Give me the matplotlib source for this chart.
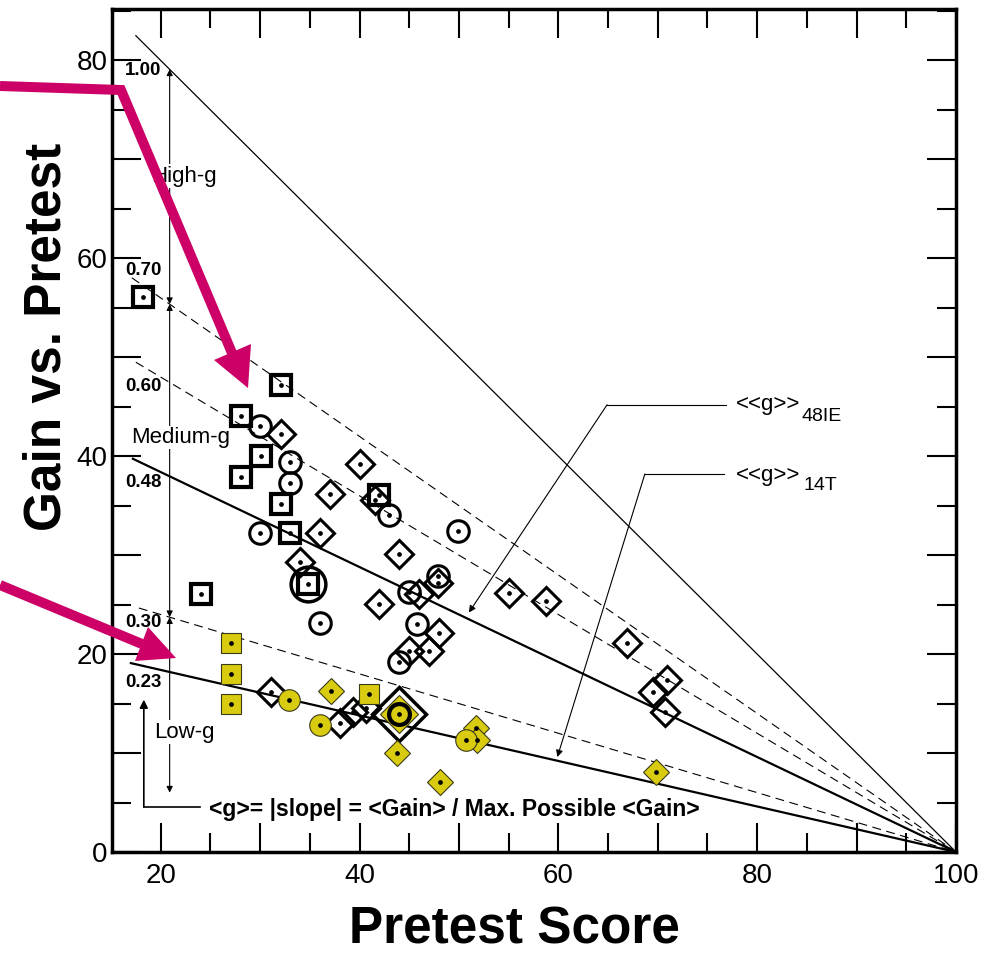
import matplotlib.pyplot as plt
from matplotlib.lines import Line2D
from matplotlib.patches import Polygon
from matplotlib.ticker import MultipleLocator, FuncFormatter
import numpy as np

plt.rcParams['font.family'] = ['Liberation Sans', 'DejaVu Sans']

W, H = 987, 955
MAGENTA = '#CC0066'
YELLOW = '#D8CB10'

# class averages: pretest score (%) and gain (%)
# open markers = interactive engagement, yellow = traditional
hs_ie_x = [18.2, 32.1, 28.1, 30.1, 28.1, 32.1, 33.0, 42.0, 34.8, 24.1]
hs_ie_y = [56.1, 47.2, 44.1, 40.0, 37.9, 35.2, 32.2, 36.1, 27.1, 26.1]
col_ie_x = [30.0, 33.0, 33.0, 30.0, 43.0, 49.9, 36.0, 45.0, 47.9, 45.8, 44.0]
col_ie_y = [43.1, 39.4, 37.3, 32.2, 34.1, 32.4, 23.1, 26.3, 27.9, 23.0, 19.2]
univ_ie_x = [32.1, 37.0, 40.0, 36.0, 34.0, 44.0, 42.0, 46.0, 47.9, 41.6, 55.0, 58.8,
             66.9, 70.9, 69.5, 70.7, 48.0, 45.0, 47.0, 31.1, 38.0, 39.3, 40.7]
univ_ie_y = [42.2, 36.2, 39.2, 32.2, 29.3, 30.1, 25.1, 26.1, 27.2, 35.6, 26.2, 25.4,
             21.1, 17.4, 16.2, 14.2, 22.1, 20.3, 20.3, 16.2, 13.0, 14.2, 14.6]
hs_t_x = [27.1, 27.1, 27.1, 41.0]
hs_t_y = [21.1, 18.0, 15.0, 16.0]
col_t_x = [32.9, 36.0, 50.7]
col_t_y = [15.4, 12.8, 11.3]
univ_t_x = [37.1, 43.8, 48.1, 51.7, 51.8, 69.8]
univ_t_y = [16.3, 10.0, 7.1, 12.5, 11.3, 8.1]
# averages (large markers)
avg_ie_x, avg_ie_y = [34.8], [27.1]
avg_t_x, avg_t_y = [44.0], [13.9]

# lines of constant <g>
g_vals = [1.00, 0.70, 0.60, 0.48, 0.30, 0.23]
g_text = ['1.00', '0.70', '0.60', '0.48', '0.30', '0.23']
g_x0 = [17.5, 17.1, 17.5, 17.2, 17.8, 17.0]
g_ls = ['-', (0, (8, 5)), (0, (8, 5)), '-', (0, (8, 5)), '-']
g_lw = [0.9, 0.8, 0.8, 1.6, 0.8, 1.6]
g_label_y = [79.0, 58.8, 47.0, 37.3, 23.2, 17.1]

fig = plt.figure(figsize=(W / 100, H / 100), dpi=100)
ax = fig.add_axes([112 / W, 1 - 852 / H, (956 - 112) / W, (852 - 9) / H])
ax.set_xlim(15.1, 100)
ax.set_ylim(0, 85.2)

for g, lab, x0, ls, lw, ly in zip(g_vals, g_text, g_x0, g_ls, g_lw, g_label_y):
    xs = np.array([x0, 100])
    ax.plot(xs, g * (100 - xs), color='k', ls=ls, lw=lw, zorder=2)
    ax.text(16.4, ly, lab, fontsize=13.5, fontweight='bold', va='center', ha='left')

# High / Medium / Low bands (double arrows at pretest ~21)
xa = 20.9
bands = [(1.00, 0.70), (0.70, 0.30), (0.30, None)]
for top, bot in bands:
    y1 = top * (100 - xa)
    y2 = bot * (100 - xa) if bot else 6.0
    ax.annotate('', xy=(xa, y1), xytext=(xa, y2),
                arrowprops=dict(arrowstyle='<|-|>', lw=0.8, color='k',
                                mutation_scale=9, shrinkA=0, shrinkB=0), zorder=2)

box = dict(fc='white', ec='none', pad=1)
ax.text(19.0, 68.3, 'High-g', fontsize=16, va='center', bbox=box, zorder=3)
ax.text(17.0, 41.9, 'Medium-g', fontsize=16, va='center', bbox=box, zorder=3)
ax.text(19.3, 12.1, 'Low-g', fontsize=16, va='center', bbox=box, zorder=3)

# <g> definition with L-shaped arrow
ax.plot([24.0, 18.3], [4.55, 4.55], color='k', lw=1.2)
ax.annotate('', xy=(18.3, 15.4), xytext=(18.3, 4.55),
            arrowprops=dict(arrowstyle='-|>', lw=1.2, color='k',
                            mutation_scale=12, shrinkA=0, shrinkB=0))
ax.text(24.9, 4.25, '<g>= |slope| = <Gain> / Max. Possible <Gain>',
        fontsize=16.5, fontweight='bold', va='center', ha='left')

# <<g>> callouts
ax.plot([76.9, 64.9], [45.2, 45.2], color='k', lw=0.8)
ax.annotate('', xy=(51.0, 24.2), xytext=(64.9, 45.2),
            arrowprops=dict(arrowstyle='-|>', lw=0.8, color='k',
                            mutation_scale=10, shrinkA=0, shrinkB=0))
ax.text(77.9, 45.2, '<<g>>', fontsize=16, va='center')
ax.text(84.5, 44.0, '48IE', fontsize=14, va='center')

ax.plot([76.7, 68.7], [38.2, 38.2], color='k', lw=0.8)
ax.annotate('', xy=(59.9, 9.6), xytext=(68.7, 38.2),
            arrowprops=dict(arrowstyle='-|>', lw=0.8, color='k',
                            mutation_scale=10, shrinkA=0, shrinkB=0))
ax.text(77.9, 38.1, '<<g>>', fontsize=16, va='center')
ax.text(84.7, 37.0, '14T', fontsize=14, va='center')

# data markers
open_kw = dict(ls='none', mfc='none', mec='k', zorder=4)
ax.plot(hs_ie_x, hs_ie_y, marker='s', ms=14, mew=3, **open_kw)
ax.plot(col_ie_x, col_ie_y, marker='o', ms=15.5, mew=2.2, **open_kw)
ax.plot(univ_ie_x, univ_ie_y, marker='D', ms=14, mew=2.2, **open_kw)
ax.plot(avg_ie_x, avg_ie_y, marker='o', ms=25, mew=2.5, **open_kw)
ax.plot(avg_t_x, avg_t_y, marker='D', ms=27, mew=2.5, **open_kw)

fill_kw = dict(ls='none', mfc=YELLOW, mec='#3a3a1a', mew=0.8, zorder=5)
ax.plot(univ_t_x, univ_t_y, marker='D', ms=13.5, **fill_kw)
ax.plot(avg_t_x, avg_t_y, marker='D', ms=19, **fill_kw)
ax.plot(hs_t_x, hs_t_y, marker='s', ms=14, **fill_kw)
ax.plot(col_t_x, col_t_y, marker='o', ms=15.5, **fill_kw)
ax.plot(avg_t_x, avg_t_y, marker='o', ms=15, ls='none', mfc=YELLOW, mec='k',
        mew=3, zorder=6)

all_x = hs_ie_x + col_ie_x + univ_ie_x + hs_t_x + col_t_x + univ_t_x + avg_t_x
all_y = hs_ie_y + col_ie_y + univ_ie_y + hs_t_y + col_t_y + univ_t_y + avg_t_y
ax.plot(all_x, all_y, ls='none', marker='o', ms=2.4, color='k', zorder=7)

# axes styling
for s in ax.spines.values():
    s.set_linewidth(2.5)
ax.xaxis.set_major_locator(MultipleLocator(10))
ax.xaxis.set_minor_locator(MultipleLocator(5))
ax.yaxis.set_major_locator(MultipleLocator(10))
ax.yaxis.set_minor_locator(MultipleLocator(5))
fmt = FuncFormatter(lambda v, p: f'{v:.0f}' if round(v) % 20 == 0 else '')
ax.xaxis.set_major_formatter(fmt)
ax.yaxis.set_major_formatter(fmt)
ax.tick_params(which='both', direction='in', top=True, right=True, width=1.5)
ax.tick_params(which='major', length=21)
ax.tick_params(which='minor', length=14)
ax.tick_params(axis='x', pad=8)
ax.tick_params(axis='y', pad=3)
for lab in ax.get_xticklabels() + ax.get_yticklabels():
    lab.set_fontsize(20)

fig.text(47 / W, 1 - 337 / H, 'Gain vs. Pretest', rotation=90, fontsize=37,
         fontweight='bold', ha='center', va='center')
fig.text(514 / W, 1 - 930 / H, 'Pretest Score', fontsize=37,
         fontweight='bold', ha='center', va='center')

# magenta pointer arrows (figure pixel coords)
def fpt(pts):
    return [(px / W, 1 - py / H) for px, py in pts]

for shaft, head in [
    ([(0, 86), (121, 90), (232, 353)], [(214, 360), (251, 344), (248, 388)]),
    ([(0, 585), (142, 644)], [(148, 627), (135, 661), (176, 658)]),
]:
    xy = np.array(fpt(shaft))
    fig.add_artist(Line2D(xy[:, 0], xy[:, 1], color=MAGENTA, lw=7.2,
                          solid_joinstyle='miter', solid_capstyle='butt',
                          transform=fig.transFigure, zorder=10))
    fig.add_artist(Polygon(fpt(head), closed=True, fc=MAGENTA, ec='none',
                           transform=fig.transFigure, zorder=10))

fig.savefig('out.png', dpi=100)
